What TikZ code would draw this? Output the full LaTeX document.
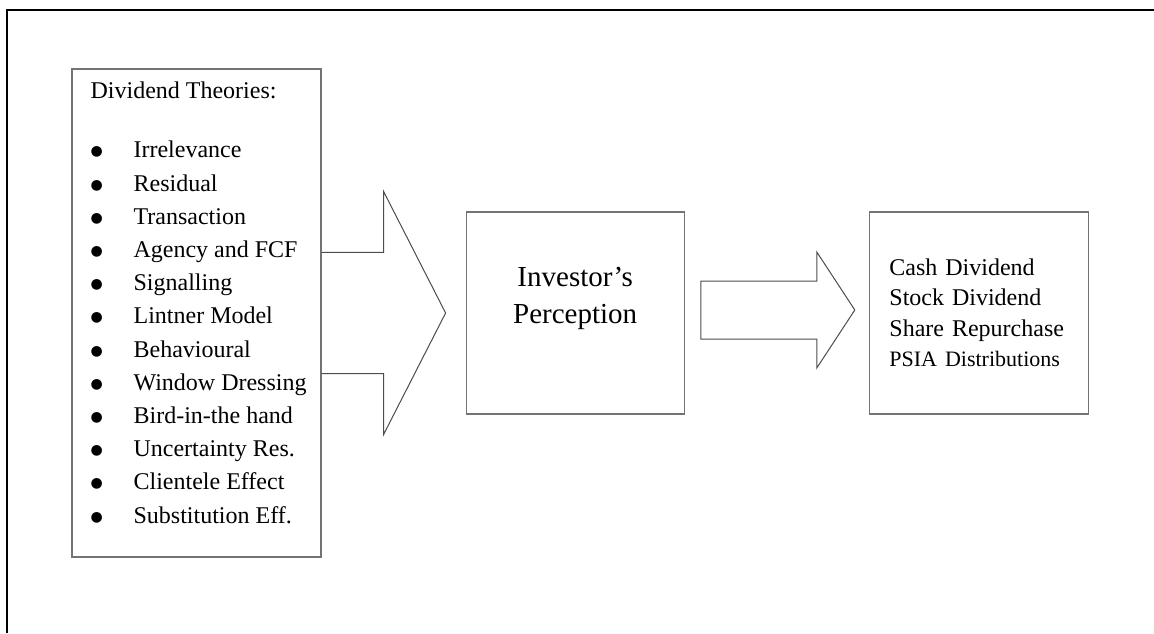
\documentclass[tikz,border=0pt]{standalone}
\usepackage{fontspec}
\setmainfont{Liberation Serif}
\newfontfamily\bulletfont{DejaVu Sans}
\usepackage{tikz}
\usetikzlibrary{positioning}
\definecolor{boxgray}{gray}{0.45}
\tikzstyle{theorybox} = [rectangle, minimum width=249pt, minimum height=488pt, draw=boxgray, line width=1.2pt]
\tikzstyle{process} = [rectangle, minimum width=218pt, minimum height=202pt, draw=boxgray, line width=1.2pt]
\tikzstyle{outcome} = [rectangle, minimum width=219pt, minimum height=202pt, text width=179pt, inner xsep=20pt, align=left, draw=boxgray, line width=1.2pt, font=\fontsize{24}{30.5}\selectfont]
\tikzstyle{listtext} = [inner sep=0pt, align=left, anchor=north west, font=\fontsize{24}{33.2}\selectfont]
\tikzstyle{blockarrow} = [draw=black!70, line width=1pt, line join=miter]
\newcommand{\theoryitem}[1]{\makebox[43pt][l]{\raisebox{2pt}{\bulletfont\fontsize{14}{33.2}\selectfont ●}}#1}

\begin{document}
\begin{tikzpicture}[x=1pt, y=1pt]
\useasboundingbox (0,0) rectangle (1154,633);
\draw [line width=2.2pt] (7,0) -- (7,623) -- (1154,623);

\node (theories) [theorybox] at (196.5,320) {};
\node (list) [listtext] at ([shift={(19,-13)}]theories.north west) {Dividend Theories:\\[26.5pt]
\theoryitem{Irrelevance}\\
\theoryitem{Residual}\\
\theoryitem{Transaction}\\
\theoryitem{Agency and FCF}\\
\theoryitem{Signalling}\\
\theoryitem{Lintner Model}\\
\theoryitem{Behavioural}\\
\theoryitem{Window Dressing}\\
\theoryitem{Bird-in-the hand}\\
\theoryitem{Uncertainty Res.}\\
\theoryitem{Clientele Effect}\\
\theoryitem{Substitution Eff.}};
\node (perception) [process, right=144pt of theories] {};
\node (perceptiontext) [align=center, font=\fontsize{29}{37}\selectfont] at ([yshift=15]perception.center) {Investor’s\\Perception};
\node (result) [outcome, right=184pt of perception] {Cash Dividend\\Stock Dividend\\Share Repurchase\\{\fontsize{22}{30.5}\selectfont PSIA Distributions}};

\draw [blockarrow] ([yshift=60.5]theories.east) -- ++(62,0) -- ++(0,61) -- ([xshift=124]theories.east) -- ++(-62,-121.5) -- ++(0,61) -- ++(-62,0);
\draw [blockarrow] ([shift={(16,32)}]perception.east) -- ++(116,0) -- ++(0,29) -- ++(38,-58) -- ++(-38,-58) -- ++(0,29) -- ++(-116,0) -- cycle;
\end{tikzpicture}
\end{document}
